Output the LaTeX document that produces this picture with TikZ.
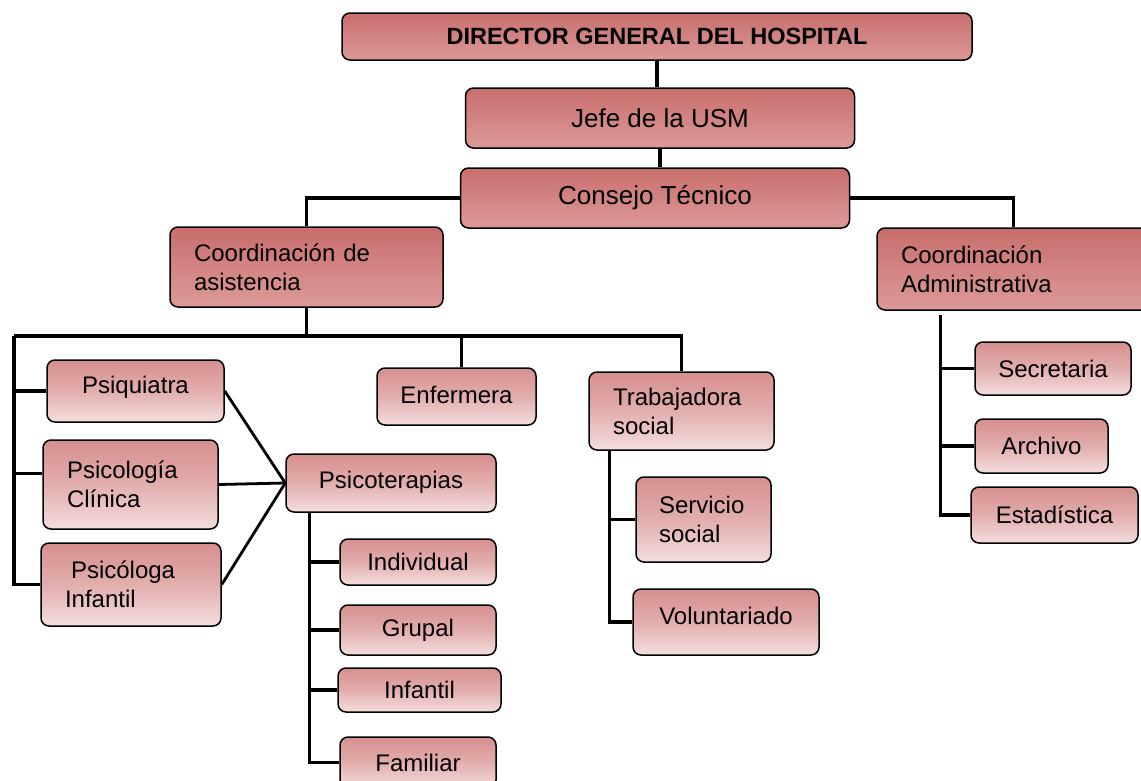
\documentclass[tikz,border=0pt]{standalone}
\usepackage{fontspec}
\setmainfont{Liberation Sans}
\usetikzlibrary{calc}
\definecolor{dtop}{RGB}{200,110,108}
\definecolor{dbot}{RGB}{220,154,152}
\definecolor{ltop}{RGB}{214,143,142}
\definecolor{lmid}{RGB}{226,174,173}
\definecolor{lbot}{RGB}{243,222,221}
\tikzset{
 box/.style={draw=black, line width=1.5pt, rounded corners=8pt, inner ysep=0pt, inner xsep=4pt, font=\fontsize{24}{29}\selectfont},
 dark/.style={box, top color=dtop, bottom color=dbot},
 leaf/.style={box, top color=ltop, bottom color=lbot, middle color=lmid},
 conn/.style={line width=3.3pt},
 lft/.style={align=left, inner xsep=24pt, text width=#1},
 sz/.style 2 args={minimum width=#1, minimum height=#2},
}
\begin{document}
\begin{tikzpicture}[x=1pt,y=-1pt]
\useasboundingbox (0,0) rectangle (1141,780);
\clip (0,0) rectangle (1141,780);
% top level
\node[dark, sz={630pt}{47pt}, font=\bfseries\fontsize{23.5}{28}\selectfont] (dir) at (657,36.5) {DIRECTOR GENERAL DEL HOSPITAL};
\node[dark, sz={389pt}{60pt}, font=\fontsize{26}{30}\selectfont] (jefe) at (660,118) {Jefe de la USM};
\node[dark, sz={389pt}{60pt}, font=\fontsize{26}{30}\selectfont] (cons) at (655,198) {Consejo Técnico};
\node[dark, sz={273pt}{80pt}, lft={225pt}] (asis) at (306.5,267) {Coordinación de\\asistencia};
\node[dark, sz={273pt}{82pt}, lft={225pt}] (adm) at (1013.5,269) {Coordinación\\Administrativa};
% asistencia branch
\node[leaf, sz={177pt}{62pt}, text depth=12pt] (psq) at (135.5,391) {Psiquiatra};
\node[leaf, sz={175pt}{89pt}, lft={127pt}] (psc) at (130.5,484.5) {Psicología\\Clínica};
\node[leaf, sz={180pt}{83pt}, lft={132pt}] (psg) at (131,584.5) {\hspace*{6pt}Psicóloga\\Infantil};
\node[leaf, sz={159pt}{57pt}, text depth=3pt] (enf) at (456.5,396.5) {Enfermera};
\node[leaf, sz={210pt}{58pt}, text depth=6pt] (psi) at (391,483) {Psicoterapias};
\node[leaf, sz={156pt}{46pt}] (ind) at (418,562) {Individual};
\node[leaf, sz={156pt}{50pt}] (gru) at (418,630) {Grupal};
\node[leaf, sz={163pt}{44pt}] (inf) at (419.5,690) {Infantil};
\node[leaf, sz={156pt}{51pt}] (fam) at (418,762.5) {Familiar};
\node[leaf, sz={185pt}{78pt}, lft={137pt}] (trab) at (681.5,411) {Trabajadora\\social};
\node[leaf, sz={135pt}{85pt}, lft={89pt}, inner xsep=23pt] (serv) at (703.5,519.5) {Servicio\\social};
\node[leaf, sz={186pt}{66pt}, text depth=12pt] (vol) at (726,622) {Voluntariado};
% administrativa branch
\node[leaf, sz={156pt}{53pt}] (sec) at (1053,368.5) {Secretaria};
\node[leaf, sz={133pt}{54pt}] (arc) at (1041.5,446) {Archivo};
\node[leaf, sz={167pt}{56pt}] (est) at (1054.5,515) {Estadística};
% connectors
\draw[conn] (dir.south) -- (dir.south |- jefe.north);
\draw[conn] (jefe.south) -- (jefe.south |- cons.north);
\draw[conn] (cons.west) -| (asis.north);
\draw[conn] (cons.east) -| (adm.north);
\coordinate (busL) at (14,336);
\draw[conn] (asis.south) -- (asis.south |- busL);
\draw[conn] (busL) -- (busL -| trab.north) -- (trab.north);
\coordinate (enfT) at ($(enf.north)+(5,0)$);
\draw[conn] (enfT |- busL) -- (enfT);
\draw[conn] (busL) |- (psg.west);
\draw[conn] (busL |- psq.west) -- (psq.west);
\coordinate (pscW) at ($(psc.west)+(0,-11)$);
\draw[conn] (busL |- pscW) -- (pscW);
\draw[conn, line width=2.8pt] (psq.east) -- (psi.west);
\draw[conn, line width=2.8pt] (psc.east) -- (psi.west);
\draw[conn, line width=2.8pt] (psg.east) -- (psi.west);
\coordinate (pb) at ($(psi.south west)+(24,0)$);
\draw[conn] (pb) |- (fam.west);
\draw[conn] (pb |- ind.west) -- (ind.west);
\draw[conn] (pb |- gru.west) -- (gru.west);
\draw[conn] (pb |- inf.west) -- (inf.west);
\coordinate (tb) at ($(trab.south west)+(21,0)$);
\draw[conn] (tb) |- (vol.west);
\draw[conn] (tb |- serv.west) -- (serv.west);
\coordinate (ab) at ($(adm.south west)+(64,4)$);
\draw[conn] (ab) |- (est.west);
\draw[conn] (ab |- sec.west) -- (sec.west);
\draw[conn] (ab |- arc.west) -- (arc.west);
\end{tikzpicture}
\end{document}
